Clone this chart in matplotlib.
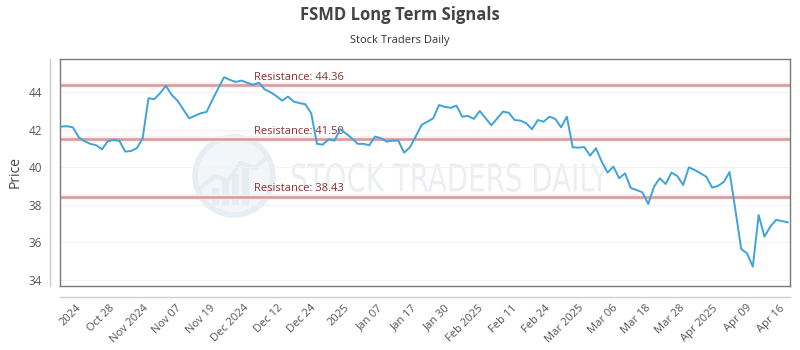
import numpy as np
import matplotlib
matplotlib.use("Agg")
import matplotlib.pyplot as plt
from matplotlib.patches import Circle, Rectangle, PathPatch
from matplotlib.lines import Line2D
from matplotlib.textpath import TextPath
from matplotlib.font_manager import FontProperties
from matplotlib.transforms import Affine2D

# ---- data ----
prices = [
    42.17, 42.19, 42.13, 41.60, 41.39, 41.25, 41.18, 40.96, 41.39, 41.46,
    41.41, 40.84, 40.87, 41.02, 41.55, 43.68, 43.63, 43.95, 44.34, 43.86,
    43.55, 43.08, 42.61, 42.75, 42.88, 42.95, 43.60, 44.20, 44.80, 44.66,
    44.55, 44.62, 44.50, 44.40, 44.51, 44.15, 44.00, 43.80, 43.55, 43.77,
    43.50, 43.42, 43.36, 42.88, 41.25, 41.21, 41.50, 41.42, 42.03, 41.80,
    41.55, 41.25, 41.25, 41.18, 41.64, 41.55, 41.37, 41.42, 41.42, 40.78,
    41.07, 41.65, 42.26, 42.43, 42.61, 43.32, 43.22, 43.17, 43.29, 42.70,
    42.74, 42.58, 43.00, 42.62, 42.24, 42.60, 42.97, 42.91, 42.52, 42.49,
    42.35, 42.03, 42.52, 42.43, 42.70, 42.58, 42.13, 42.70, 41.07, 41.05,
    41.08, 40.62, 41.02, 40.30, 39.72, 40.04, 39.42, 39.68, 38.90, 38.79,
    38.67, 38.05, 38.97, 39.42, 39.11, 39.72, 39.54, 39.06, 40.00, 39.86,
    39.68, 39.50, 38.92, 39.01, 39.22, 39.75, 37.73, 35.65, 35.42, 34.71,
    37.46, 36.31, 36.84, 37.20, 37.14, 37.07,
]
resistance = [44.36, 41.50, 38.43]
tick_labels = ["2024", "Oct 28", "Nov 2024", "Nov 07", "Nov 19", "Dec 2024",
               "Dec 12", "Dec 24", "2025", "Jan 07", "Jan 17", "Jan 30",
               "Feb 2025", "Feb 11", "Feb 24", "Mar 2025", "Mar 06", "Mar 18",
               "Mar 28", "Apr 2025", "Apr 09", "Apr 16"]
y_ticks = [34, 36, 38, 40, 42, 44]

FONT = ["Open Sans", "DejaVu Sans"]
plt.rcParams["font.family"] = FONT

W, H = 800, 350
fig = plt.figure(figsize=(W / 100, H / 100), dpi=100)
L, R, T, B = 60, 790, 59, 286
ax = fig.add_axes([L / W, 1 - B / H, (R - L) / W, (B - T) / H])

x = np.arange(len(prices))
n = len(prices)
step = (787.7 - 61.3) / (n - 1)
ax.set_xlim(-1.3 / step, (n - 1) + 2.3 / step)
ax.set_ylim(33.68, 45.77)

# grid
for yv in y_ticks:
    ax.axhline(yv, color="#f2f2f2", lw=0.8, zorder=0)

# watermark (behind the plot)
ax_w = fig.add_axes([0, 0, 1, 1], zorder=-1)
ax_w.set_xlim(0, W); ax_w.set_ylim(H, 0); ax_w.axis("off")
ax_w.add_patch(Circle((234, 176), 39, facecolor="#f3f6f9", edgecolor="#e6edf3", lw=4))
for bx, bh in [(212, 18), (222, 26), (232, 32), (242, 38)]:
    ax_w.add_patch(Rectangle((bx, 206 - bh), 7, bh, facecolor="#e7ecf1", edgecolor="none"))
ax_w.plot([200, 215, 228, 240, 255, 268], [188, 176, 181, 163, 168, 156], color="#e7ecf1", lw=3)
tp = TextPath((0, 0), "STOCK TRADERS DAILY", size=1, prop=FontProperties(family="DejaVu Sans"))
bb = tp.get_extents()
sx = 316 / bb.width
sy = 29 / bb.height
tr = Affine2D().translate(-bb.x0, -bb.y0).scale(sx, -sy).translate(292, 192)
ax_w.add_patch(PathPatch(tr.transform_path(tp), facecolor="#eceef1", edgecolor="none"))
ax.patch.set_alpha(0)

# resistance lines
for r in resistance:
    ax.axhline(r, color="#fbeeee", lw=4, zorder=1)
    ax.axhline(r, color="#dc9797", lw=1.8, zorder=2)
    ax.text((254 - L) / (R - L), r + 0.13, f"Resistance: {r:.2f}",
            transform=ax.get_yaxis_transform(), fontsize=8, color="#8a3030",
            ha="left", va="bottom", zorder=3)

ax.plot(x, prices, color="#3fa3db", lw=1.4, zorder=4)

# ticks
ax.set_yticks(y_ticks)
ax.set_yticklabels([str(v) for v in y_ticks], fontsize=8.5, color="#555555")
ax.tick_params(axis="y", length=0, pad=13)
first = (76 - 61.3) / step
tstep = 33.49 / step
xt = first + tstep * np.arange(len(tick_labels))
ax.set_xticks(xt)
ax.set_xticklabels(tick_labels, rotation=45, ha="right", rotation_mode="anchor",
                   fontsize=8, color="#555555")
ax.tick_params(axis="x", length=0, pad=12)
ax.set_ylabel("Price", fontsize=10, color="#444444", labelpad=4)

for s in ax.spines.values():
    s.set_color("#7a7a7a")
    s.set_linewidth(1)

# outer axis lines
fig.add_artist(Line2D([50 / W, 50 / W], [1 - T / H, 1 - B / H], color="#cccccc", lw=1))
fig.add_artist(Line2D([L / W, R / W], [1 - 297 / H, 1 - 297 / H], color="#cccccc", lw=1))

fig.text(0.5, 1 - 15 / H, "FSMD Long Term Signals", ha="center", va="center",
         fontsize=12, fontweight="bold", color="#444444")
fig.text(0.5, 1 - 40 / H, "Stock Traders Daily", ha="center", va="center",
         fontsize=8, color="#333333")

fig.savefig("out.png", dpi=100, facecolor="white")
